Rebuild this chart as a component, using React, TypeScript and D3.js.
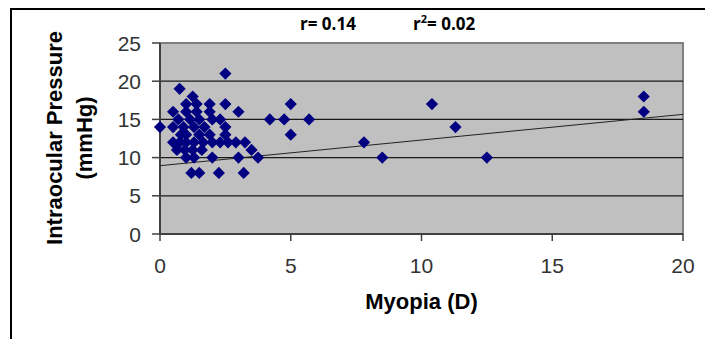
import React from "react";
import * as d3 from "d3";

const myopia: number[] = [
  4.2, 4.75, 5.7, 5.0, 5.0, 7.8, 8.5, 10.4, 11.3, 12.5, 18.5, 18.5,
  2.5, 0.75, 1.25,
  1.0, 1.4, 1.9, 2.5,
  0.5, 1.0, 1.4, 1.9, 3.0,
  0.7, 1.15, 1.5, 2.0, 2.3,
  0.0, 0.5, 0.9, 1.3, 1.7, 2.5,
  1.0, 1.5, 1.9, 2.5, 0.8,
  0.5, 0.75, 1.0, 1.3, 1.65, 2.0, 2.3, 2.6, 2.9, 3.25,
  0.65, 0.95, 1.25, 1.6, 3.5,
  1.0, 1.3, 2.0, 3.0, 3.75,
  1.2, 1.5, 2.25, 3.2,
];
const pressure: number[] = [
  15, 15, 15, 17, 13, 12, 10, 17, 14, 10, 18, 16,
  21, 19, 18,
  17, 17, 17, 17,
  16, 16, 16, 16, 16,
  15, 15, 15, 15, 15,
  14, 14, 14, 14, 14, 14,
  13, 13, 13, 13, 13,
  12, 12, 12, 12, 12, 12, 12, 12, 12, 12,
  11, 11, 11, 11, 11,
  10, 10, 10, 10, 10,
  8, 8, 8, 8,
];
const xTicks: number[] = [0, 5, 10, 15, 20];
const yTicks: number[] = [0, 5, 10, 15, 20, 25];
const trendIntercept = 8.94;
const trendSlope = 0.336;

export default function App() {
  const W = 705, H = 339;
  const left = 160, right = 683, top = 43, bottom = 234;
  const x = d3.scaleLinear().domain([0, 20]).range([left, right]);
  const y = d3.scaleLinear().domain([0, 25]).range([bottom, top]);
  const diamond = d3.symbol().type(d3.symbolDiamond2).size(95)();
  const trend = d3.line<number>()
    .x((d) => x(d))
    .y((d) => y(trendIntercept + trendSlope * d));
  const font = "'Liberation Sans', Arial, sans-serif";
  return (
    <svg width={W} height={H} style={{ position: "absolute", left: 0, top: 0 }} fontFamily={font}>
      <rect x={0} y={0} width={W} height={H} fill="#fff" />
      <path d={`M11,${H}V9H${W}`} fill="none" stroke="#000" strokeWidth={2} />
      <rect x={left} y={top} width={right - left} height={bottom - top} fill="#c0c0c0" stroke="#808080" strokeWidth={2} />
      {yTicks.filter((t) => t > 0 && t < 25).map((t) => (
        <line key={"g" + t} x1={left} x2={right} y1={y(t)} y2={y(t)} stroke="#1a1a1a" strokeWidth={1.3} />
      ))}
      <line x1={left} x2={left} y1={top} y2={bottom} stroke="#404040" strokeWidth={2} />
      <line x1={left} x2={right} y1={bottom} y2={bottom} stroke="#404040" strokeWidth={2} />
      {yTicks.map((t) => (
        <g key={"y" + t}>
          <line x1={left - 8} x2={left} y1={y(t)} y2={y(t)} stroke="#404040" strokeWidth={1.5} />
          <text x={141} y={y(t)} dy="0.36em" textAnchor="end" fontSize={21} fill="#333">{t}</text>
        </g>
      ))}
      {xTicks.map((t) => (
        <g key={"x" + t}>
          <line x1={x(t)} x2={x(t)} y1={bottom} y2={bottom + 7} stroke="#404040" strokeWidth={1.5} />
          <text x={x(t)} y={273} textAnchor="middle" fontSize={21} fill="#333">{t}</text>
        </g>
      ))}
      <path d={trend([0, 20]) || ""} fill="none" stroke="#222" strokeWidth={1} />
      {myopia.map((m, i) => (
        <path key={"p" + i} d={diamond || ""} transform={`translate(${x(m)},${y(pressure[i])})`} fill="#000080" />
      ))}
      <text x={(left + right) / 2} y={309} textAnchor="middle" fontSize={22} fontWeight="bold" fill="#000">Myopia (D)</text>
      <g transform="translate(0,138) rotate(-90)">
        <text x={0} y={62} textAnchor="middle" fontSize={22} fontWeight="bold" fill="#000">Intraocular Pressure</text>
        <text x={0} y={92} textAnchor="middle" fontSize={22} fontWeight="bold" fill="#000">(mmHg)</text>
      </g>
      <text x={300} y={30} fontSize={17} fontWeight="bold" fontFamily="'Open Sans', sans-serif" fill="#000">r= 0.14</text>
      <text x={413} y={30} fontSize={17} fontWeight="bold" fontFamily="'Open Sans', sans-serif" fill="#000">
        r<tspan fontSize={11} dy={-7}>2</tspan><tspan dy={7}>= 0.02</tspan>
      </text>
    </svg>
  );
}
